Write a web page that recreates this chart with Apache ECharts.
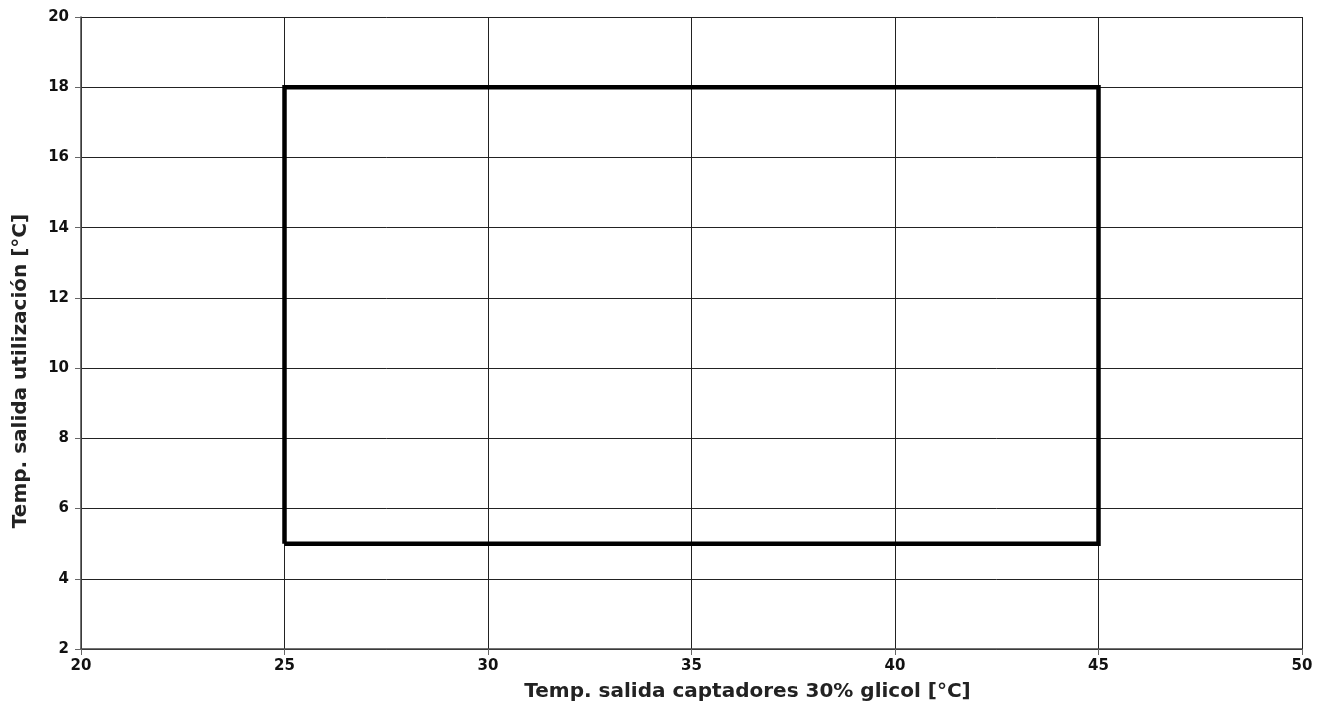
<!DOCTYPE html>
<html>
<head>
<meta charset="utf-8">
<script src="https://cdn.jsdelivr.net/npm/echarts@6/dist/echarts.min.js"></script>
<style>
  html, body { margin: 0; padding: 0; background: #fff; }
  #chart { width: 1330px; height: 718px; }
</style>
</head>
<body>
<div id="chart"></div>
<script>
// rectangle outline (operating envelope)
var envX = [25, 45, 45, 25, 25];
var envY = [5, 5, 18, 18, 5];
var xTitle = 'Temp. salida captadores 30% glicol [°C]';
var yTitle = 'Temp. salida utilización [°C]';

var points = envX.map(function (x, i) { return [x, envY[i]]; });

var chart = echarts.init(document.getElementById('chart'));
var font = '"DejaVu Sans", sans-serif';
chart.setOption({
  animation: false,
  grid: { left: 81, right: 28, top: 17, bottom: 69, containLabel: false, outerBoundsMode: 'none' },
  xAxis: {
    type: 'value', min: 20, max: 50, interval: 5,
    name: xTitle, nameLocation: 'middle', nameGap: 33,
    // titles sit off-centre in the original, padding shifts them
    nameTextStyle: { color: '#222', fontSize: 20, fontWeight: 'bold', fontFamily: font, padding: [0, 0, 0, 112] },
    axisLine: { show: true, lineStyle: { color: '#444', width: 1.5 } },
    axisTick: { show: true, length: 6, lineStyle: { color: '#666' } },
    axisLabel: { color: '#111', fontSize: 15, fontWeight: 'bold', fontFamily: font, margin: 10 },
    splitLine: { show: true, lineStyle: { color: '#222', width: 1 } }
  },
  yAxis: {
    type: 'value', min: 2, max: 20, interval: 2,
    name: yTitle, nameLocation: 'middle', nameGap: 50,
    nameTextStyle: { color: '#222', fontSize: 20, fontWeight: 'bold', fontFamily: font, padding: [0, 76, 0, 0] },
    axisLine: { show: true, lineStyle: { color: '#444', width: 1.5 } },
    axisTick: { show: true, length: 6, lineStyle: { color: '#666' } },
    axisLabel: { color: '#111', fontSize: 15, fontWeight: 'bold', fontFamily: font, margin: 12 },
    splitLine: { show: true, lineStyle: { color: '#222', width: 1 } }
  },
  series: [{
    type: 'line',
    data: points,
    symbol: 'none',
    lineStyle: { color: '#000', width: 4.5, join: 'miter' }
  }]
});
</script>
</body>
</html>
